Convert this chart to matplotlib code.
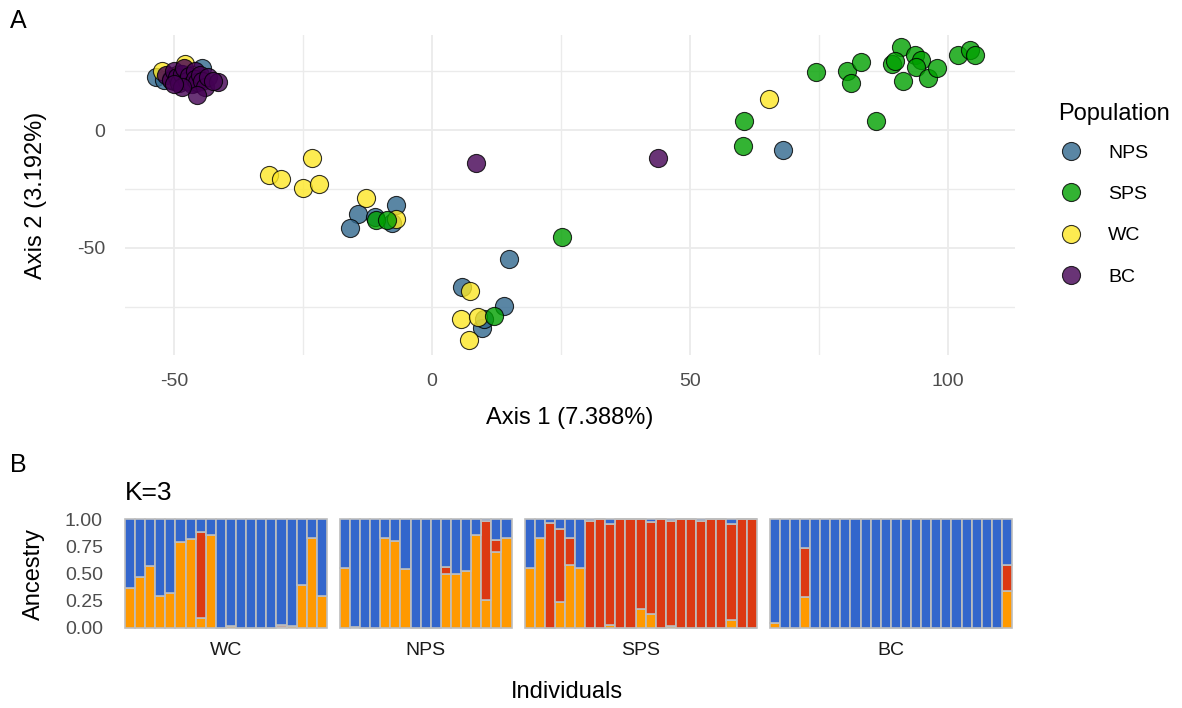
import matplotlib
matplotlib.use("Agg")
import matplotlib.pyplot as plt
from matplotlib.lines import Line2D

plt.rcParams['font.family'] = ['Liberation Sans', 'DejaVu Sans']
plt.rcParams['axes.unicode_minus'] = False

# ---- Panel A: PCoA scores per population ----
nps_x = [-7.0, -14.3, -15.9, -7.8, -11.0, 15.0, 5.8, 14.0, 9.6, 10.0, 68.0,
         -53.5, -44.5, -50.0, -47.0, -52.0, -46.0]
nps_y = [-31.9, -35.5, -41.7, -39.3, -37.0, -54.8, -66.5, -74.6, -84.2, -80.0, -8.2,
         22.5, 26.5, 21.0, 24.0, 21.5, 20.0]

sps_x = [-10.9, -8.8, 12.1, 25.2, 60.5, 60.2, 74.4, 80.5, 81.2, 83.1, 86.0, 89.1,
         91.0, 91.3, 93.6, 94.8, 93.8, 96.2, 97.8, 101.9, 104.3, 105.2, 89.7]
sps_y = [-38.3, -38.3, -79.1, -45.3, 3.8, -6.8, 24.6, 25.3, 20.3, 28.9, 3.8, 28.2,
         35.2, 20.8, 32.1, 30.0, 27.1, 22.2, 26.4, 32.1, 34.2, 32.1, 29.5]

wc_x = [-31.6, -29.3, -23.3, -25.0, -21.9, -12.8, -7.0, 7.4, 5.6, 9.0, 7.2, 65.3,
        -52.3, -47.8, -50.0, -49.0, -50.5, -46.5, -48.0, -45.0]
wc_y = [-19.1, -20.8, -11.9, -24.6, -22.9, -28.9, -37.9, -68.5, -80.2, -79.2, -89.1, 13.4,
        25.0, 28.0, 23.0, 24.0, 22.0, 23.5, 21.5, 22.0]

bc_x = [-51.5, -50.5, -50.0, -49.5, -49.0, -48.5, -48.0, -47.5, -47.0, -46.5, -46.0,
        -46.0, -45.5, -45.0, -44.5, -44.0, -43.5, -45.5, -41.5, -42.5, -48.5, -50.0,
        8.6, 43.8]
bc_y = [23.5, 21.5, 25.0, 22.5, 20.0, 24.0, 26.5, 21.0, 23.0, 19.5, 25.0,
        22.0, 20.5, 23.5, 21.0, 18.5, 22.5, 15.0, 20.5, 21.0, 18.5, 19.5,
        -14.1, -11.9]

pop_names = ["NPS", "SPS", "WC", "BC"]
pop_colors = {"NPS": "#31688E", "SPS": "#00A000", "WC": "#FDE725", "BC": "#440154"}

# ---- Panel B: ancestry proportions (K=3) per individual ----
wc_orange = [0.37, 0.47, 0.57, 0.29, 0.32, 0.79, 0.82, 0.09, 0.85, 0, 0.015, 0, 0, 0,
             0, 0.01, 0.015, 0.39, 0.83, 0.29]
wc_red = [0, 0, 0, 0, 0, 0, 0, 0.79, 0, 0, 0, 0, 0, 0,
          0, 0.02, 0, 0, 0, 0]
wc_blue = [0.63, 0.53, 0.43, 0.71, 0.68, 0.21, 0.18, 0.12, 0.15, 1, 0.985, 1, 1, 1,
           1, 0.97, 0.985, 0.61, 0.17, 0.71]

nps_orange = [0.55, 0.01, 0, 0, 0.83, 0.80, 0.54, 0, 0, 0, 0.50, 0.50, 0.52, 0.85,
              0.26, 0.70, 0.83]
nps_red = [0, 0, 0, 0, 0, 0, 0, 0, 0, 0, 0.06, 0, 0, 0,
           0.72, 0.11, 0]
nps_blue = [0.45, 0.99, 1, 1, 0.17, 0.20, 0.46, 1, 1, 1, 0.44, 0.50, 0.48, 0.15,
            0.02, 0.19, 0.17]

sps_orange = [0.55, 0.83, 0, 0.24, 0.58, 0.55, 0, 0, 0.03, 0, 0, 0.17, 0.13, 0,
              0.015, 0, 0, 0, 0, 0, 0.07, 0, 0]
sps_red = [0, 0, 0.96, 0.67, 0.25, 0, 0.98, 1, 0.92, 1, 1, 0.83, 0.84, 1,
           0.97, 1, 1, 0.98, 1, 1, 0.88, 1, 1]
sps_blue = [0.45, 0.17, 0.04, 0.09, 0.17, 0.45, 0.02, 0, 0.05, 0, 0, 0, 0.03, 0,
            0.015, 0, 0, 0.02, 0, 0, 0.05, 0, 0]

bc_orange = [0.05, 0, 0, 0.28] + [0] * 19 + [0.34]
bc_red = [0, 0, 0, 0.45] + [0] * 19 + [0.24]
bc_blue = [0.95, 1, 1, 0.27] + [1] * 19 + [0.42]

facet_order = ["WC", "NPS", "SPS", "BC"]
ancestry = {
    "WC": (wc_orange, wc_red, wc_blue),
    "NPS": (nps_orange, nps_red, nps_blue),
    "SPS": (sps_orange, sps_red, sps_blue),
    "BC": (bc_orange, bc_red, bc_blue),
}
k_colors = ["#FF9900", "#DC3912", "#3366CC"]

W, H = 1182, 708
fig = plt.figure(figsize=(W / 100, H / 100), dpi=100)

tick_col = "#4D4D4D"
grid_col = "#EBEBEB"

# ---------------- Panel A ----------------
axA = fig.add_axes([125 / W, 1 - 355 / H, (1015 - 125) / W, (355 - 35) / H])
scores = {"NPS": (nps_x, nps_y), "SPS": (sps_x, sps_y), "WC": (wc_x, wc_y), "BC": (bc_x, bc_y)}
for pop in ["NPS", "WC", "SPS", "BC"]:
    xs, ys = scores[pop]
    axA.scatter(xs, ys, s=170, c=pop_colors[pop], alpha=0.8, edgecolors="black",
                linewidths=0.8, zorder=3)

axA.set_xlim(-59.5, 113)
axA.set_ylim(-95.5, 40.5)
axA.set_xticks([-50, 0, 50, 100])
axA.set_xticks([-25, 25, 75], minor=True)
axA.set_yticks([-50, 0])
axA.set_yticks([-75, -25, 25], minor=True)
axA.grid(True, which="major", color=grid_col, lw=1.3, zorder=0)
axA.grid(True, which="minor", color=grid_col, lw=1.0, zorder=0)
axA.set_axisbelow(True)
for sp in axA.spines.values():
    sp.set_visible(False)
axA.tick_params(which="both", length=0, labelsize=14, labelcolor=tick_col)
axA.tick_params(axis="x", pad=13)
axA.tick_params(axis="y", pad=14)
axA.set_xlabel("Axis 1 (7.388%)", fontsize=17)
axA.set_ylabel("Axis 2 (3.192%)", fontsize=17)
axA.xaxis.set_label_coords(0.5, -(407 - 355) / 320, transform=axA.transAxes)
axA.yaxis.set_label_coords(-(125 - 47) / 890, 0.5, transform=axA.transAxes)

handles = [Line2D([], [], ls="none", marker="o", markersize=13, markerfacecolor=pop_colors[p],
                  markeredgecolor="black", markeredgewidth=0.8, alpha=0.8) for p in pop_names]
leg = fig.legend(handles, pop_names, loc="upper left", bbox_to_anchor=(1050 / W, 1 - 95 / H),
                 frameon=False, title="Population", fontsize=14, title_fontsize=17,
                 labelspacing=1.22, handletextpad=1.2, borderaxespad=0, handlelength=1.4)
leg._legend_box.align = "left"
leg._legend_box.sep = 14

fig.text(10 / W, 1 - 21 / H, "A", fontsize=18, va="center", ha="left")

# ---------------- Panel B ----------------
fig.text(10 / W, 1 - 465 / H, "B", fontsize=18, va="center", ha="left")
fig.text(125 / W, 1 - 493 / H, "K=3", fontsize=19, va="center", ha="left")

left, right, gap = 125, 1012, 13
counts = [len(ancestry[p][0]) for p in facet_order]
per_bar = (right - left - gap * (len(facet_order) - 1)) / sum(counts)
top_px, bot_px = 519, 628
x0 = left
for i, pop in enumerate(facet_order):
    n = counts[i]
    w = n * per_bar
    ax = fig.add_axes([x0 / W, 1 - bot_px / H, w / W, (bot_px - top_px) / H])
    x0 += w + gap
    idx = list(range(n))
    bottom = [0.0] * n
    for vals, col in zip(ancestry[pop], k_colors):
        ax.bar(idx, vals, width=1.0, bottom=bottom, color=col, edgecolor="#BEBEBE",
               linewidth=1.2, clip_on=False)
        bottom = [b + v for b, v in zip(bottom, vals)]
    ax.set_xlim(-0.5, n - 0.5)
    ax.set_ylim(0, 1)
    for sp in ax.spines.values():
        sp.set_visible(False)
    ax.set_xticks([])
    ax.set_xlabel(pop, fontsize=14, color="#1A1A1A", labelpad=10)
    if i == 0:
        ax.set_yticks([0, 0.25, 0.5, 0.75, 1.0])
        ax.set_yticklabels(["0.00", "0.25", "0.50", "0.75", "1.00"])
        ax.tick_params(axis="y", length=0, labelsize=14, labelcolor=tick_col, pad=16)
        ax.set_ylabel("Ancestry", fontsize=17)
        ax.yaxis.set_label_coords(-(125 - 45) / w, 0.5, transform=ax.transAxes)
    else:
        ax.set_yticks([])

fig.text(567 / W, 1 - 692 / H, "Individuals", fontsize=17, ha="center", va="center")

fig.savefig("out.png", dpi=100)
